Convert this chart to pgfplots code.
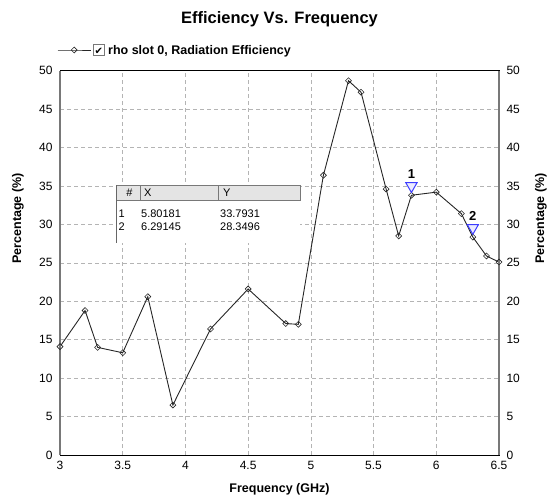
\documentclass[border=0pt]{standalone}
\usepackage{fontspec}
\setmainfont{Liberation Sans}
\newfontfamily\dejavu{DejaVu Sans}
\usepackage{pgfplots}
\pgfplotsset{compat=1.18}
\definecolor{gridgray}{RGB}{180,180,180}
\definecolor{axgray}{RGB}{120,120,120}
\definecolor{hdrgray}{RGB}{228,228,228}
\definecolor{mkblue}{RGB}{60,60,255}
\begin{document}
\begin{tikzpicture}[x=1pt,y=1pt]
\path[use as bounding box] (0,0) rectangle (553,495);
\begin{axis}[
  at={(60pt,40pt)}, anchor=south west,
  width=439pt, height=384.3pt, scale only axis,
  xmin=3, xmax=6.5, ymin=0, ymax=50,
  xtick={3,3.5,4,4.5,5,5.5,6,6.5}, ytick={0,5,10,15,20,25,30,35,40,45,50},
  grid=major,
  major grid style={gridgray, dash pattern=on 4pt off 3pt, line width=0.7pt},
  major tick length=0pt,
  axis line style={black, line width=1pt},
  tick label style={font=\fontsize{12}{14}\selectfont},
  /pgf/number format/assume math mode=true,
  xticklabel style={yshift=-3pt},
  yticklabel style={xshift=-4pt},
  clip=false,
  legend style={at={(0,1)}, anchor=west, yshift=20.7pt, xshift=-3pt, draw=none, fill=none,
    inner sep=0pt, font=\bfseries\fontsize{12.5}{14}\selectfont},
  legend cell align=left,
  legend image code/.code={\draw[mark repeat=2, mark phase=2] plot coordinates {(0pt,0pt) (16.5pt,0pt) (33pt,0pt)};},
]
\addplot[black!85, line width=0.9pt, mark=square, mark size=2.1pt,
  mark options={rotate=45, fill=white, line width=0.6pt, solid}] coordinates {
  (3.0,14.1) (3.2,18.8) (3.3,14.0) (3.5,13.3) (3.7,20.6) (3.9,6.5)
  (4.2,16.4) (4.5,21.6) (4.8,17.1) (4.9,17.0) (5.1,36.4) (5.3,48.7)
  (5.4,47.2) (5.6,34.6) (5.7,28.5) (5.80181,33.7931) (6.0,34.2) (6.2,31.4)
  (6.29145,28.3496) (6.4,25.9) (6.5,25.1)
};
\addlegendentry{{\setlength\fboxsep{0pt}\setlength\fboxrule{0.8pt}\fcolorbox{axgray}{white}{\makebox[10pt][c]{\raisebox{0pt}[9pt][1pt]{\dejavu\fontsize{10}{10}\selectfont ✔}}}}\ rho slot 0, Radiation Efficiency}
\addplot[only marks, mark=triangle*, mark size=6.5pt,
  mark options={yshift=9.3pt, rotate=180, draw=mkblue, fill=blue!8, line width=1pt}, forget plot]
  coordinates {(5.80181,33.7931) (6.29145,28.3496)};
\node[font=\bfseries\fontsize{13}{14}\selectfont] at (axis cs:5.80181,33.7931) [yshift=21.5pt] {1};
\node[font=\bfseries\fontsize{13}{14}\selectfont] at (axis cs:6.29145,28.3496) [yshift=21.5pt] {2};
\draw[axgray, line width=1.5pt] (rel axis cs:0,0) -- (rel axis cs:0,1);
\draw[axgray, line width=1.5pt] (rel axis cs:1,0) -- (rel axis cs:1,1);
\end{axis}
\begin{axis}[
  at={(60pt,40pt)}, anchor=south west,
  width=439pt, height=384.3pt, scale only axis,
  xmin=3, xmax=6.5, ymin=0, ymax=50,
  axis x line=none, axis y line*=right,
  ytick={0,5,10,15,20,25,30,35,40,45,50},
  major tick length=0pt,
  axis line style={draw=none},
  tick label style={font=\fontsize{12}{14}\selectfont},
  /pgf/number format/assume math mode=true,
  yticklabel style={xshift=4pt},
]
\addplot[draw=none] coordinates {(3,0)};
\end{axis}
% titles and labels
\node[font=\bfseries\fontsize{16.5}{18}\selectfont] at (279.5,475.6) {Efficiency Vs. Frequency};
\node[font=\bfseries\fontsize{12.5}{14}\selectfont] at (279.5,5.5) {Frequency (GHz)};
\node[rotate=90, font=\bfseries\fontsize{12.5}{14}\selectfont] at (18,276.5) {Percentage (\%)};
\node[rotate=90, font=\bfseries\fontsize{12.5}{14}\selectfont] at (541,276.5) {Percentage (\%)};
% marker table
\fill[white] (116,252) rectangle (300,310);
\fill[hdrgray] (116,295) rectangle (300,310);
\draw[axgray, line width=0.8pt] (116.5,295) rectangle (140,310);
\draw[axgray, line width=0.8pt] (140,295) rectangle (218,310);
\draw[axgray, line width=0.8pt] (218,295) rectangle (300,310);
\draw[black!60, line width=1.5pt] (116.5,252) -- (116.5,310);
\begin{scope}[every node/.style={font=\fontsize{11}{12}\selectfont, inner sep=0pt}]
\node at (129.5,302.5) {\#};
\node[anchor=west] at (144,302.5) {X};
\node[anchor=west] at (223,302.5) {Y};
\node[anchor=west] at (118.5,281) {1};
\node[anchor=west] at (141,281) {5.80181};
\node[anchor=west] at (220,281) {33.7931};
\node[anchor=west] at (118.5,268) {2};
\node[anchor=west] at (141,268) {6.29145};
\node[anchor=west] at (220,268) {28.3496};
\end{scope}
\end{tikzpicture}
\end{document}
